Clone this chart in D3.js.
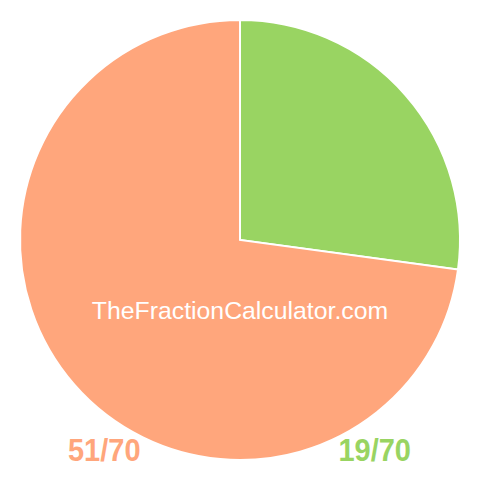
<!DOCTYPE html>
<html><head><meta charset="utf-8">
<script src="https://cdn.jsdelivr.net/npm/d3@7"></script>
<style>body{margin:0;background:#fff}</style>
</head><body>
<svg id="c" width="480" height="480"></svg>
<script>
const labels = ["19/70", "51/70"];
const values = [19, 51];
const colors = ["#99d462", "#ffa67c"];
const watermark = "TheFractionCalculator.com";

const svg = d3.select("#c");
const cx = 240, cy = 240, r = 220;
const pie = d3.pie().sort(null).value(d => d)(values);
const arc = d3.arc().innerRadius(0).outerRadius(r);
const g = svg.append("g").attr("transform", `translate(${cx},${cy})`);
g.selectAll("path").data(pie).join("path")
  .attr("d", arc)
  .attr("fill", (d, i) => colors[i])
  .attr("stroke", "#fff")
  .attr("stroke-width", 2);

svg.append("text").attr("x", 240).attr("y", 319)
  .attr("text-anchor", "middle")
  .attr("font-family", "Liberation Sans, Arial, sans-serif")
  .attr("font-size", 24.8)
  .attr("fill", "#fff")
  .text(watermark);

svg.append("text")
  .attr("transform", "translate(68,461) scale(1,1.07)")
  .attr("font-family", "Liberation Sans, Arial, sans-serif")
  .attr("font-weight", "bold").attr("font-size", 29)
  .attr("fill", colors[1]).text(labels[1]);
svg.append("text")
  .attr("transform", "translate(411,461) scale(1,1.07)")
  .attr("text-anchor", "end")
  .attr("font-family", "Liberation Sans, Arial, sans-serif")
  .attr("font-weight", "bold").attr("font-size", 29)
  .attr("fill", colors[0]).text(labels[0]);
</script>
</body></html>
